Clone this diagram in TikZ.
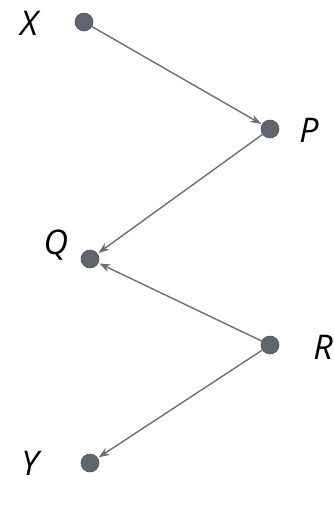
\documentclass[tikz,border=0pt]{standalone}
\usepackage{fontspec}
\setsansfont{Open Sans}
\usepackage{tikz}
\usetikzlibrary{arrows.meta, positioning}
\definecolor{dotGrey}{RGB}{95,102,112}
\definecolor{edgeGrey}{RGB}{110,110,110}

\begin{document}
\begin{tikzpicture}[
    x=1pt, y=-1pt,
    font=\sffamily\itshape\fontsize{34}{38}\selectfont,
    dot/.style={circle, fill=dotGrey, draw=dotGrey!80!black, line width=0.6pt,
                minimum size=18pt, inner sep=0pt},
    tag/.style={inner sep=0pt, text=black},
    link/.style={-{Stealth[length=11pt, width=8pt]}, draw=edgeGrey,
                 line width=1.4pt, shorten >=1pt}
]
\useasboundingbox (0,0) rectangle (333,506);
% points
\node[dot] (x) at (84,22) {};
\node[dot] (p) at (270,129) {};
\node[dot] (q) at (90,259) {};
\node[dot] (r) at (270,345) {};
\node[dot] (y) at (90,463) {};
% letters
\node[tag] (xl) at (29,23) {X};
\node[tag] (pl) at (309,130) {P};
\node[tag] (ql) at (56,245) {Q};
\node[tag] (rl) at (323,347) {R};
\node[tag] (yl) at (30,463) {Y};
% links
\draw[link] (x) -- (p);
\draw[link] (p) -- (q);
\draw[link] (r) -- (q);
\draw[link] (r) -- (y);
\end{tikzpicture}
\end{document}
